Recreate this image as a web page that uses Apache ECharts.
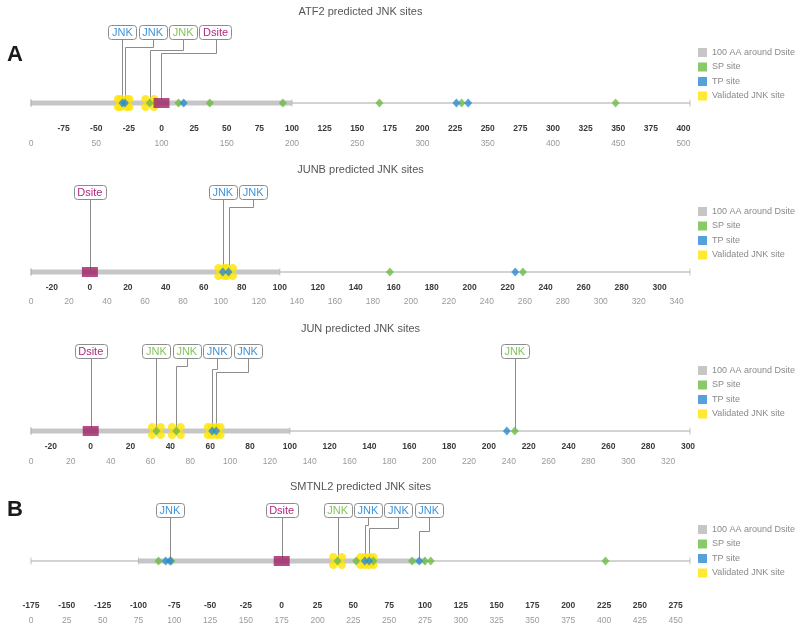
<!DOCTYPE html>
<html><head><meta charset="utf-8">
<script src="https://cdn.jsdelivr.net/npm/echarts@6/dist/echarts.min.js"></script>
<style>html,body{margin:0;padding:0;background:#fff}#chart{width:800px;height:636px}</style>
</head><body><div id="chart"></div>
<script>
// ================= DATA =================
const titles = ['ATF2 predicted JNK sites', 'JUNB predicted JNK sites', 'JUN predicted JNK sites', 'SMTNL2 predicted JNK sites'];
const proteinLengths = [505, 347, 331, 460];     // residues
const dsitePositions = [100, 31, 30, 175];      // absolute residue of the D-site (relative 0)

// site positions relative to the D-site
const atf2SP = [-9, 13, 37, 93, 167, 230, 348];
const atf2TP = [-30, -28, 17, 226, 235];
const atf2Validated = [-30, -28, -9];
const atf2LabelSites = [-30, -28, -9, 0];
const atf2LabelKinds = ['TP', 'TP', 'SP', 'D'];

const junbSP = [158, 228];
const junbTP = [70, 73, 224];
const junbValidated = [70, 73];
const junbLabelSites = [0, 70, 73];
const junbLabelKinds = ['D', 'TP', 'TP'];

const junSP = [33, 43, 213];
const junTP = [61, 63, 209];
const junValidated = [33, 43, 61, 63];
const junLabelSites = [0, 33, 43, 61, 63, 213];
const junLabelKinds = ['D', 'SP', 'SP', 'TP', 'TP', 'SP'];

const smtnl2SP = [-86, -77, 39, 52, 64, 91, 100, 104, 226];
const smtnl2TP = [-81, -78, 58, 61, 96];
const smtnl2Validated = [39, 58, 61];
const smtnl2LabelSites = [-78, 0, 39, 58, 61, 96];
const smtnl2LabelKinds = ['TP', 'D', 'SP', 'TP', 'TP', 'TP'];

// tick labels
const atf2RelTicks = [-75, -50, -25, 0, 25, 50, 75, 100, 125, 150, 175, 200, 225, 250, 275, 300, 325, 350, 375, 400];
const atf2AbsTicks = [0, 50, 100, 150, 200, 250, 300, 350, 400, 450, 500];
const junbRelTicks = [-20, 0, 20, 40, 60, 80, 100, 120, 140, 160, 180, 200, 220, 240, 260, 280, 300];
const junbAbsTicks = [0, 20, 40, 60, 80, 100, 120, 140, 160, 180, 200, 220, 240, 260, 280, 300, 320, 340];
const junRelTicks = [-20, 0, 20, 40, 60, 80, 100, 120, 140, 160, 180, 200, 220, 240, 260, 280, 300];
const junAbsTicks = [0, 20, 40, 60, 80, 100, 120, 140, 160, 180, 200, 220, 240, 260, 280, 300, 320];
const smtnl2RelTicks = [-175, -150, -125, -100, -75, -50, -25, 0, 25, 50, 75, 100, 125, 150, 175, 200, 225, 250, 275];
const smtnl2AbsTicks = [0, 25, 50, 75, 100, 125, 150, 175, 200, 225, 250, 275, 300, 325, 350, 375, 400, 425, 450];

const legendNames = ['100 AA around Dsite', 'SP site', 'TP site', 'Validated JNK site'];
const bandHalfWidth = 100;

// ================= LAYOUT / STYLE =================
const spSites = [atf2SP, junbSP, junSP, smtnl2SP];
const tpSites = [atf2TP, junbTP, junTP, smtnl2TP];
const validatedSites = [atf2Validated, junbValidated, junValidated, smtnl2Validated];
const labelSites = [atf2LabelSites, junbLabelSites, junLabelSites, smtnl2LabelSites];
const labelKinds = [atf2LabelKinds, junbLabelKinds, junLabelKinds, smtnl2LabelKinds];
const relTicks = [atf2RelTicks, junbRelTicks, junRelTicks, smtnl2RelTicks];
const absTicks = [atf2AbsTicks, junbAbsTicks, junAbsTicks, smtnl2AbsTicks];

const FONT = '"Liberation Sans", Arial, Helvetica, sans-serif';
const trackY = [103, 272, 431, 561];
const labelRise = [71, 80, 80, 51];
const titleY = [12, 170, 329, 487];
const legendTop = [48, 207, 366, 525];
const relMargin = [11, 1, 1, 30];
const absOffset = [15, 14, 15, 15];
const GRID_LEFT = 31, GRID_W = 659, GRID_H = 20;

const COL_SP = '#6dbb45', COL_TP = '#2a8bd2', COL_Y = '#ffe300', COL_BAND = '#c6c6c6', COL_D = '#9d1f66';
const TXT_COL = { TP: '#3f95d9', SP: '#86c45e', D: '#b0287f' };
const labelFont = '11px ' + FONT;
const BOX_H = 14, BOX_PAD = 3.6, BOX_GAP = 2.4;
const mctx = document.createElement('canvas').getContext('2d');
mctx.font = labelFont;
const textW = t => mctx.measureText(t).width;
const labelText = k => (k === 'D' ? 'Dsite' : 'JNK');

const flower = 'path://M0,5A5,5 0 1,1 10,5A5,5 0 1,1 0,5Z M10,5A5,5 0 1,1 20,5A5,5 0 1,1 10,5Z M0,15A5,5 0 1,1 10,15A5,5 0 1,1 0,15Z M10,15A5,5 0 1,1 20,15A5,5 0 1,1 10,15Z M5,5L15,5L15,15L5,15Z';

function labelRenderer(p) {
  const sites = labelSites[p], kinds = labelKinds[p];
  return function (params, api) {
    const idx = params.dataIndex;
    let prevRight = -Infinity, chain = -1, o = null;
    for (let i = 0; i <= idx; i++) {
      const pt = api.coord([sites[i], 0]);
      const w = textW(labelText(kinds[i])) + 2 * BOX_PAD;
      let cx = pt[0];
      if (cx - w / 2 < prevRight + BOX_GAP) { cx = prevRight + BOX_GAP + w / 2; chain++; } else { chain = -1; }
      prevRight = cx + w / 2;
      if (i === idx) o = { cx, w, sx: pt[0], ty: pt[1], chain };
    }
    const cy = o.ty - labelRise[p];
    const top = cy - BOX_H / 2, bottom = cy + BOX_H / 2;
    const lx = Math.round(o.cx) + 0.5, sx = Math.round(o.sx) + 0.5;
    let pts;
    if (o.chain < 0) pts = [[sx, bottom], [sx, o.ty]];
    else {
      const ey = Math.round(bottom + 8 + 3 * o.chain) + 0.5;
      pts = [[lx, bottom], [lx, ey], [sx, ey], [sx, o.ty]];
    }
    const k = kinds[idx];
    return {
      type: 'group', children: [
        { type: 'polyline', shape: { points: pts }, style: { stroke: '#8c8c8c', lineWidth: 1, fill: null } },
        { type: 'rect', shape: { x: Math.round(o.cx - o.w / 2) + 0.5, y: Math.round(top) + 0.5, width: Math.round(o.w), height: BOX_H, r: 3 },
          style: { fill: '#fff', stroke: '#8c8c8c', lineWidth: 1 } },
        { type: 'text', style: { text: labelText(k), x: o.cx, y: cy + 0.5, align: 'center', verticalAlign: 'middle',
          textAlign: 'center', textVerticalAlign: 'middle', fill: TXT_COL[k], font: labelFont } }
      ]
    };
  };
}

const grids = [], xAxes = [], yAxes = [], series = [], legends = [], graphics = [];
for (let p = 0; p < 4; p++) {
  const L = proteinLengths[p], D = dsitePositions[p];
  const rmin = -D, rmax = L - D;
  const bs = Math.max(rmin, -bandHalfWidth), be = Math.min(rmax, bandHalfWidth);
  grids.push({ left: GRID_LEFT, width: GRID_W, top: trackY[p] - GRID_H / 2, height: GRID_H, containLabel: false, outerBoundsMode: 'none' });
  xAxes.push({
    gridIndex: p, type: 'value', min: rmin, max: rmax, position: 'bottom',
    axisLine: { show: false }, axisTick: { show: false }, splitLine: { show: false },
    axisLabel: { customValues: relTicks[p], margin: relMargin[p], fontSize: 8.5, fontWeight: 'bold', color: '#3a3a3a', fontFamily: FONT }
  });
  xAxes.push({
    gridIndex: p, type: 'value', min: 0, max: L, position: 'bottom', offset: absOffset[p],
    axisLine: { show: false }, axisTick: { show: false }, splitLine: { show: false },
    axisLabel: { customValues: absTicks[p], margin: relMargin[p], fontSize: 8.5, color: '#9a9a9a', fontFamily: FONT }
  });
  yAxes.push({ gridIndex: p, type: 'value', min: -1, max: 1, show: false });
  const ax = { xAxisIndex: 2 * p, yAxisIndex: p };
  series.push(Object.assign({
    type: 'custom', renderItem: labelRenderer(p), z: 1, silent: true,
    data: labelSites[p].map(s => [s, 0])
  }, ax));
  series.push(Object.assign({
    type: 'line', z: 2, silent: true, clip: false, symbol: 'none',
    lineStyle: { color: '#d3d3d3', width: 2 }, data: [[rmin, 0], [rmax, 0]]
  }, ax));
  series.push(Object.assign({
    name: legendNames[0], type: 'line', z: 2, silent: true, clip: false, symbol: 'none',
    itemStyle: { color: COL_BAND }, lineStyle: { color: COL_BAND, width: 5 }, data: [[bs, 0], [be, 0]]
  }, ax));
  series.push(Object.assign({
    type: 'scatter', z: 2, silent: true, symbol: 'rect', symbolSize: [1, 7],
    itemStyle: { color: '#b3b3b3' }, data: [[rmin, 0], [rmax, 0], [bs, 0], [be, 0]]
  }, ax));
  series.push(Object.assign({
    name: legendNames[3], type: 'scatter', z: 3, silent: true, symbol: flower, symbolSize: [17, 16],
    itemStyle: { color: COL_Y }, data: validatedSites[p].map(s => [s, 0])
  }, ax));
  series.push(Object.assign({
    name: legendNames[1], type: 'scatter', z: 4, silent: true, symbol: 'diamond', symbolSize: [8, 9],
    itemStyle: { color: COL_SP }, data: spSites[p].map(s => [s, 0])
  }, ax));
  series.push(Object.assign({
    name: legendNames[2], type: 'scatter', z: 4, silent: true, symbol: 'diamond', symbolSize: [8, 9],
    itemStyle: { color: COL_TP }, data: tpSites[p].map(s => [s, 0])
  }, ax));
  series.push(Object.assign({
    type: 'scatter', z: 5, silent: true, symbol: 'rect', symbolSize: [16, 10],
    itemStyle: { color: COL_D }, data: [[0, 0]]
  }, ax));
  legends.push({
    data: legendNames.slice(), orient: 'vertical', left: 698, top: legendTop[p], padding: 0,
    icon: 'rect', itemWidth: 9, itemHeight: 9, itemGap: 5.5, selectedMode: false,
    textStyle: { fontSize: 9, color: '#8a8a8a', fontFamily: FONT }
  });
  graphics.push({
    type: 'text', x: GRID_LEFT + GRID_W / 2, y: titleY[p],
    style: { text: titles[p], align: 'center', verticalAlign: 'middle', textAlign: 'center', textVerticalAlign: 'middle',
      fill: '#555', font: '11px ' + FONT }
  });
}
graphics.push({ type: 'text', x: 7, y: 55, style: { text: 'A', verticalAlign: 'middle', textVerticalAlign: 'middle', fill: '#1a1a1a', font: 'bold 22px ' + FONT } });
graphics.push({ type: 'text', x: 7, y: 510, style: { text: 'B', verticalAlign: 'middle', textVerticalAlign: 'middle', fill: '#1a1a1a', font: 'bold 22px ' + FONT } });

const chart = echarts.init(document.getElementById('chart'), null, { renderer: 'canvas' });
chart.setOption({
  animation: false,
  backgroundColor: '#fff',
  grid: grids, xAxis: xAxes, yAxis: yAxes, series: series, legend: legends,
  graphic: { elements: graphics },
  tooltip: { show: false }
});
</script></body></html>
